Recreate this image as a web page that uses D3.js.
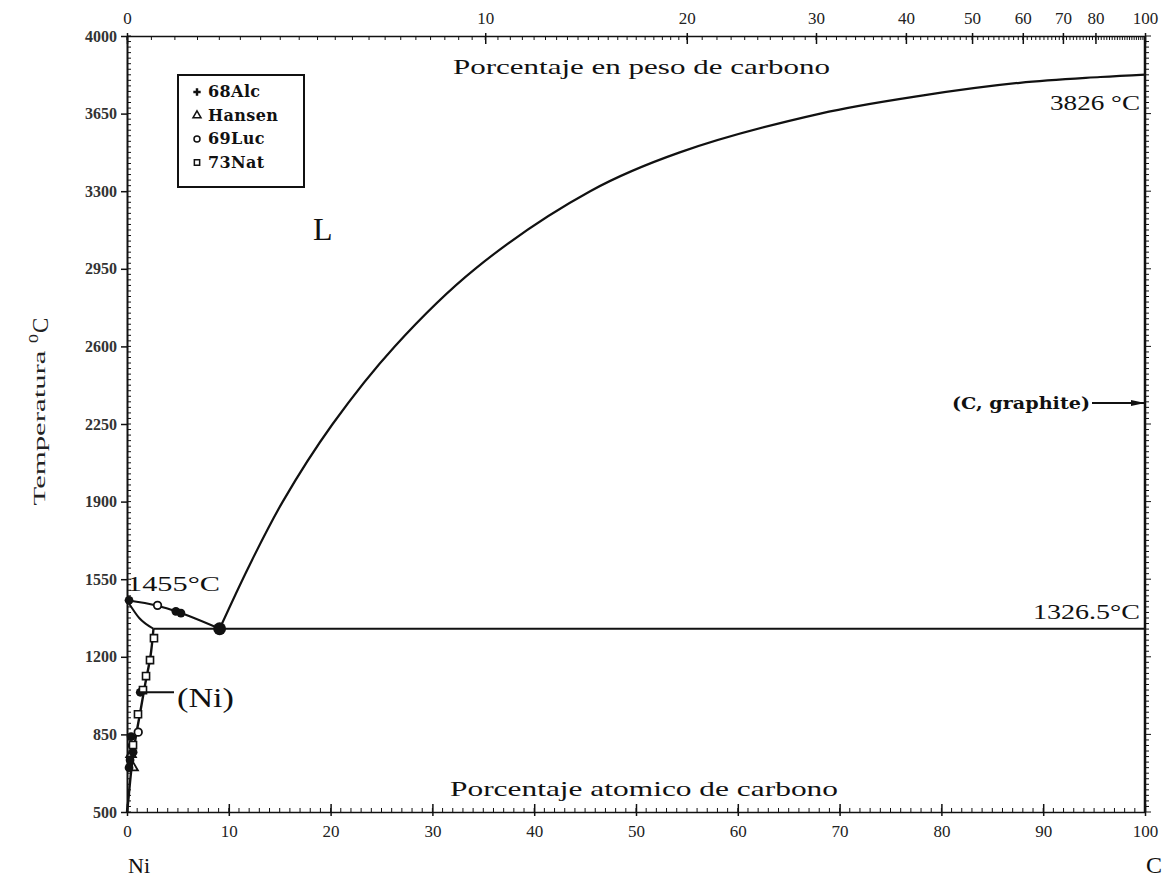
<!DOCTYPE html>
<html><head><meta charset="utf-8">
<script src="https://cdn.jsdelivr.net/npm/d3@7"></script>
<style>body{margin:0;background:#fff;} svg{display:block}</style>
</head><body>
<svg id="chart" width="1169" height="882"></svg>
<script>
// ---------- data ----------
const atomicTicks = [0,10,20,30,40,50,60,70,80,90,100];
const weightTicks = [0,10,20,30,40,50,60,70,80,100];
const tempTicks = [500,850,1200,1550,1900,2250,2600,2950,3300,3650,4000];

// phase boundaries: [atomic % C, temperature °C]
const liquidusGraphite = [[9.1,1326.5],[12.0,1610],[15.3,1900],[20.2,2250],[26.3,2600],[34.2,2950],[45.5,3300],[54.3,3475],[68.1,3650],[77.9,3730],[87.7,3789],[95.6,3815],[100,3826]];
const liquidusNi = [[0,1455],[3,1430],[5,1402],[9.1,1326.5]];
const solidusNi = [[0,1455],[1.2,1375],[2.6,1326.5]];
const solvusNi = [[2.6,1326.5],[2.3,1200],[1.8,1080],[1.3,950],[0.8,820],[0.4,680],[0.1,540],[0,500]];
const eutecticLine = [[2.6,1326.5],[100,1326.5]];
const graphiteLine = [[100,500],[100,4000]];

// experimental points
const pts68Alc = [[0.2,1455],[4.8,1405],[5.3,1397],[9.1,1326.5],[1.3,1040],[0.4,840],[0.5,800],[0.6,770],[0.3,735],[0.2,700]];
const ptsHansen = [[0.6,700],[0.4,760]];
const pts69Luc = [[3.0,1432],[1.1,860]];
const pts73Nat = [[2.65,1284],[2.26,1185],[1.87,1113],[1.57,1050],[1.08,941],[0.59,802]];

const legendNames = ["68Alc","Hansen","69Luc","73Nat"];

// ---------- layout ----------
const X0=127, X1=1145, Y0=812, Y1=36;
const x = d3.scaleLinear().domain([0,100]).range([X0,X1]);
const y = d3.scaleLinear().domain([500,4000]).range([Y0,Y1]);
const toAt = w => w>=100 ? 100 : (w/12.011)/((w/12.011)+((100-w)/58.693))*100;
const serif = '"Liberation Serif","Times New Roman",serif';
const ink = '#111';

const svg = d3.select('#chart');

// ---------- axes ----------
// left
const gl = svg.append('g').attr('transform',`translate(${X0},0)`)
  .call(d3.axisLeft(y).tickValues(tempTicks).tickFormat(d3.format('d')).tickSizeInner(6).tickSizeOuter(0).tickPadding(4));
gl.select('.domain').attr('stroke',ink).attr('stroke-width',2);
gl.selectAll('.tick line').attr('stroke',ink).attr('stroke-width',1.5);
gl.selectAll('.tick text').attr('font-family',serif).attr('font-weight','bold')
  .attr('font-size',16).attr('fill','#333');
svg.append('g').selectAll('line').data(d3.range(500,4001,25)).join('line')
  .attr('x1',X0).attr('x2',X0+4).attr('y1',d=>y(d)).attr('y2',d=>y(d))
  .attr('stroke',ink).attr('stroke-width',1);

// right border ticks
svg.append('g').selectAll('line').data(d3.range(500,4001,25)).join('line')
  .attr('x1',X1).attr('x2',d=>X1+((d-500)%350===0?6:4)).attr('y1',d=>y(d)).attr('y2',d=>y(d))
  .attr('stroke',ink).attr('stroke-width',1);

// bottom
const gb = svg.append('g').attr('transform',`translate(0,${Y0})`)
  .call(d3.axisBottom(x).tickValues(atomicTicks).tickSizeInner(4).tickSizeOuter(0).tickPadding(9));
gb.select('.domain').attr('stroke',ink).attr('stroke-width',1.5);
gb.selectAll('.tick line').attr('stroke',ink).attr('stroke-width',1.5).attr('y1',-8);
gb.selectAll('.tick text').attr('font-family',serif).attr('font-size',17).attr('fill','#222');
svg.append('g').selectAll('line').data(d3.range(0,101,1)).join('line')
  .attr('x1',d=>x(d)).attr('x2',d=>x(d)).attr('y1',Y0).attr('y2',Y0-4)
  .attr('stroke',ink).attr('stroke-width',1);

// top (weight percent)
const gt = svg.append('g').attr('transform',`translate(0,${Y1})`)
  .call(d3.axisTop(x).tickValues(weightTicks.map(toAt)).tickFormat((d,i)=>weightTicks[i])
    .tickSizeInner(-8).tickSizeOuter(0).tickPadding(12));
gt.select('.domain').attr('stroke',ink).attr('stroke-width',1.5);
gt.selectAll('.tick line').attr('stroke',ink).attr('stroke-width',1.5).attr('y1',-3);
gt.selectAll('.tick text').attr('font-family',serif).attr('font-size',17).attr('fill','#222');
const topMinor = d3.range(0,20,0.5).concat(d3.range(20,100,1));
svg.append('g').selectAll('line').data(topMinor).join('line')
  .attr('x1',d=>x(toAt(d))).attr('x2',d=>x(toAt(d))).attr('y1',Y1).attr('y2',Y1+4)
  .attr('stroke',ink).attr('stroke-width',1);

// ---------- phase lines ----------
const line = d3.line().x(d=>x(d[0])).y(d=>y(d[1]));
const smooth = d3.line().x(d=>x(d[0])).y(d=>y(d[1])).curve(d3.curveCatmullRom.alpha(0.5));
const curved = d3.line().x(d=>x(d[0])).y(d=>y(d[1])).curve(d3.curveMonotoneX);
const curvedY = d3.line().x(d=>x(d[0])).y(d=>y(d[1])).curve(d3.curveMonotoneY);
svg.append('path').attr('d',smooth(liquidusGraphite)).attr('fill','none').attr('stroke',ink).attr('stroke-width',2.2);
svg.append('path').attr('d',curved(liquidusNi)).attr('fill','none').attr('stroke',ink).attr('stroke-width',2.2);
svg.append('path').attr('d',curved(solidusNi)).attr('fill','none').attr('stroke',ink).attr('stroke-width',2);
svg.append('path').attr('d',curvedY(solvusNi)).attr('fill','none').attr('stroke',ink).attr('stroke-width',2.4);
svg.append('path').attr('d',line(eutecticLine)).attr('fill','none').attr('stroke',ink).attr('stroke-width',2.2);
svg.append('path').attr('d',line(graphiteLine)).attr('fill','none').attr('stroke',ink).attr('stroke-width',2.5);

// ---------- markers ----------
const sym = (type,size)=>d3.symbol().type(type).size(size);
svg.append('g').selectAll('path').data(pts68Alc).join('path')
  .attr('transform',d=>`translate(${x(d[0])},${y(d[1])})`)
  .attr('d',(d,i)=> sym(d3.symbolCircle, i===3?130:60)())
  .attr('fill',ink);
svg.append('g').selectAll('path').data(ptsHansen).join('path')
  .attr('transform',d=>`translate(${x(d[0])},${y(d[1])})`)
  .attr('d',sym(d3.symbolTriangle,40)()).attr('fill','none').attr('stroke',ink).attr('stroke-width',1.8);
svg.append('g').selectAll('path').data(pts69Luc).join('path')
  .attr('transform',d=>`translate(${x(d[0])},${y(d[1])})`)
  .attr('d',sym(d3.symbolCircle,45)()).attr('fill','#fff').attr('stroke',ink).attr('stroke-width',1.8);
svg.append('g').selectAll('path').data(pts73Nat).join('path')
  .attr('transform',d=>`translate(${x(d[0])},${y(d[1])})`)
  .attr('d',sym(d3.symbolSquare,50)()).attr('fill','#fff').attr('stroke',ink).attr('stroke-width',1.6);

// ---------- legend ----------
const lg = svg.append('g');
lg.append('rect').attr('x',178).attr('y',75).attr('width',126).attr('height',112)
  .attr('fill','#fff').attr('stroke',ink).attr('stroke-width',2);
const legendSyms = [d3.symbolCross, d3.symbolTriangle, d3.symbolCircle, d3.symbolSquare];
legendNames.forEach((n,i)=>{
  const yy = 92 + i*23.5;
  lg.append('path').attr('transform',`translate(197,${yy})`)
    .attr('d',sym(legendSyms[i], i===0?30:28)())
    .attr('fill',i===0?ink:'none').attr('stroke',ink).attr('stroke-width',i===0?0:1.5);
  lg.append('text').attr('x',208).attr('y',yy+5).text(n)
    .attr('font-family','"DejaVu Serif",serif').attr('font-weight','bold').attr('font-size',16)
    .attr('letter-spacing',0.4).attr('fill',ink);
});

// ---------- annotations ----------
const txt = (t,xx,yy,size,opts={})=>{
  const e = svg.append('text').attr('x',xx).attr('y',yy).text(t)
    .attr('font-family',opts.family||serif).attr('font-size',size).attr('fill',opts.fill||ink)
    .attr('text-anchor',opts.anchor||'start');
  if(opts.weight) e.attr('font-weight',opts.weight);
  if(opts.len) e.attr('textLength',opts.len).attr('lengthAdjust','spacingAndGlyphs');
  return e;
};
txt('Porcentaje en peso de carbono',453,74,21,{len:377});
txt('Porcentaje atomico de carbono',450,796,21,{len:388});
txt('L',313,240,32);
txt('3826 °C',1050,110,21,{len:90});
txt('1455°C',127,591,21,{len:93});
txt('1326.5°C',1033,619,21,{len:107});
txt('(Ni)',177,707,27,{len:57});
txt('Ni',128,873,22);
txt('C',1146,873,24);
txt('(C, graphite)',952,409,16,{family:'"DejaVu Serif",serif',weight:'bold',len:138});

// leader lines
svg.append('line').attr('x1',x(1.0)).attr('x2',174).attr('y1',y(1040)).attr('y2',y(1040))
  .attr('stroke',ink).attr('stroke-width',2);
const gy = y(2345);
svg.append('line').attr('x1',1092).attr('x2',X1).attr('y1',gy).attr('y2',gy)
  .attr('stroke',ink).attr('stroke-width',2);
svg.append('path').attr('d',`M${X1-14},${gy-3}L${X1},${gy}L${X1-14},${gy+3}Z`).attr('fill',ink);

// y title
const yt = svg.append('g').attr('transform','translate(45,428) rotate(-90)');
yt.append('text').attr('x',0).attr('y',0).attr('text-anchor','middle')
  .attr('font-family',serif).attr('font-size',16).attr('fill','#222')
  .attr('textLength',155).attr('lengthAdjust','spacingAndGlyphs').text('Temperatura');
const yt2 = svg.append('g').attr('transform','translate(48,343) rotate(-90)');
yt2.append('text').attr('x',0).attr('y',-10).attr('font-family',serif).attr('font-size',18).attr('fill','#222').text('o');
yt2.append('text').attr('x',10).attr('y',0).attr('font-family',serif).attr('font-size',23).attr('fill','#222').text('C');
</script>
</body></html>
